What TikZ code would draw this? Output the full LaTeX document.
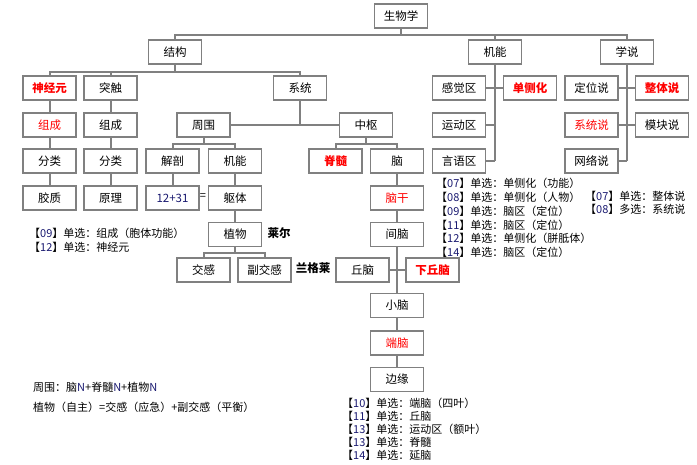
\documentclass[tikz,border=0pt]{standalone}
\usepackage{fontspec}
\setmainfont{Noto Sans CJK SC}
\definecolor{boxgray}{RGB}{128,128,128}
\definecolor{numblue}{RGB}{25,25,112}
\newcommand{\nb}[1]{\textcolor{numblue}{#1}}
\tikzset{
	box/.style={draw=boxgray,line width=1.7pt,fill=white,minimum width=53pt,minimum height=24pt,inner sep=0pt,font=\fontsize{11.5}{13}\selectfont},
	hot/.style={box,text=red},
	hotb/.style={box,text=red,font=\fontsize{11.5}{13}\selectfont\bfseries},
	link/.style={draw=boxgray,line width=2pt},
	note/.style={anchor=west,inner sep=0pt,font=\fontsize{11}{12}\selectfont},
	tag/.style={inner sep=0pt,font=\fontsize{11.5}{13}\selectfont\bfseries}
}
\begin{document}
\begin{tikzpicture}[x=1pt,y=-1pt]
			\useasboundingbox (0,0) rectangle (697,465);
			% top levels
			\node[box] (root) at (401,16) {生物学};
			\node[box] (jg) at (175,52) {结构};
			\node[box] (jn) at (495,52) {机能};
			\node[box] (xs) at (627,52) {学说};
			% structure
			\node[hotb] (sjy) at (49.5,88) {神经元};
			\node[box] (tc) at (110.5,88) {突触};
			\node[box] (xt) at (300,88) {系统};
			\node[hot] (zc1) at (49.5,125) {组成};
			\node[box] (zc2) at (110.5,125) {组成};
			\node[box] (fl1) at (49.5,161) {分类};
			\node[box] (fl2) at (110.5,161) {分类};
			\node[box] (jz) at (49.5,198) {胶质};
			\node[box] (yl) at (110.5,198) {原理};
			\node[box] (zw) at (203.5,125) {周围};
			\node[box] (zs) at (366,125) {中枢};
			\node[box] (jp) at (172.5,161) {解剖};
			\node[box] (jn2) at (235,161) {机能};
			\node[box,text=numblue] (nums) at (172.5,198) {12+31};
			\node[tag,font=\fontsize{11}{13}\selectfont] (eq) at (203,197) {=};
			\node[box] (qt) at (235,198) {躯体};
			\node[box] (zwu) at (235,234.5) {植物};
			\node[box] (jg2) at (203.5,270) {交感};
			\node[box] (fjg) at (264.5,270) {副交感};
			\node[tag] (laier) at (279,233) {莱尔};
			\node[tag] (lgl) at (313,268) {兰格莱};
			\node[hotb] (js) at (335.5,161) {脊髓};
			\node[box] (nao) at (397,161) {脑};
			\node[hot] (ng) at (397,198) {脑干};
			\node[box] (jnao) at (397,234.5) {间脑};
			\node[box] (qn) at (362.5,270) {丘脑};
			\node[hotb] (xqn) at (432.5,270) {下丘脑};
			\node[box] (xn) at (397,305.5) {小脑};
			\node[hot] (dn) at (397,343) {端脑};
			\node[box] (by) at (397,379.5) {边缘};
			% function
			\node[box] (gjq) at (459,88) {感觉区};
			\node[hotb] (dcx) at (530,88) {单侧化};
			\node[box] (ydq) at (459,125) {运动区};
			\node[box] (yyq) at (459,161) {言语区};
			% theories
			\node[box] (dws) at (591.5,88) {定位说};
			\node[hotb] (zts) at (662,88) {整体说};
			\node[hot] (xts) at (591.5,125) {系统说};
			\node[box] (mks) at (662,125) {模块说};
			\node[box] (wls) at (591.5,161) {网络说};
			% connectors
			\draw[link] (root.south) -- ++(0,6) -| (jg.north);
			\draw[link] (root.south) -- ++(0,6) -| (jn.north);
			\draw[link] (root.south) -- ++(0,6) -| (xs.north);
			\draw[link] (jg.south) -- ++(0,7) -| (sjy.north);
			\draw[link] (jg.south) -- ++(0,7) -| (tc.north);
			\draw[link] (jg.south) -- ++(0,7) -| (xt.north);
			\draw[link] (sjy.south) -- (zc1.north);
			\draw[link] (zc1.south) -- (fl1.north);
			\draw[link] (fl1.south) -- (jz.north);
			\draw[link] (tc.south) -- (zc2.north);
			\draw[link] (zc2.south) -- (fl2.north);
			\draw[link] (fl2.south) -- (yl.north);
			\draw[link] (xt.south) -- (xt.south |- zw.east);
			\draw[link] (zw.east) -- (zs.west);
			\draw[link] (zw.south) -- ++(0,6) -| (jp.north);
			\draw[link] (zw.south) -- ++(0,6) -| (jn2.north);
			\draw[link] (jp.south) -- (nums.north);
			\draw[link] (jn2.south) -- (qt.north);
			\draw[link] (qt.south) -- (zwu.north);
			\draw[link] (zwu.south) -- ++(0,6) -| (jg2.north);
			\draw[link] (zwu.south) -- ++(0,6) -| (fjg.north);
			\draw[link] (zs.south) -- ++(0,6) -| (js.north);
			\draw[link] (zs.south) -- ++(0,6) -| (nao.north);
			\draw[link] (nao.south) -- (ng.north);
			\draw[link] (ng.south) -- (jnao.north);
			\draw[link] (jnao.south) -- (xn.north);
			\draw[link] (qn.east) -- (xqn.west);
			\draw[link] (xn.south) -- (dn.north);
			\draw[link] (dn.south) -- (by.north);
			\draw[link] (jn.south) -- (jn.south |- yyq.east);
			\draw[link] (gjq.east) -- (dcx.west);
			\draw[link] (ydq.east) -- (ydq.east -| jn.south);
			\draw[link] (yyq.east) -- (yyq.east -| jn.south);
			\draw[link] (xs.south) -- (xs.south |- wls.east);
			\draw[link] (dws.east) -- (zts.west);
			\draw[link] (xts.east) -- (mks.west);
			\draw[link] (wls.east) -- (wls.east -| xs.south);
			% exam notes
			\node[note] (a1) at (29,233) {【\nb{09}】单选：组成（胞体功能）};
			\node[note] (a2) at (29,247) {【\nb{12}】单选：神经元};
			\node[note] (b1) at (436,183) {【\nb{07}】单选：单侧化（功能）};
			\node[note] (b2) at (436,197) {【\nb{08}】单选：单侧化（人物）};
			\node[note] (b3) at (436,211) {【\nb{09}】单选：脑区（定位）};
			\node[note] (b4) at (436,225) {【\nb{11}】单选：脑区（定位）};
			\node[note] (b5) at (436,238) {【\nb{12}】单选：单侧化（胼胝体）};
			\node[note] (b6) at (436,252) {【\nb{14}】单选：脑区（定位）};
			\node[note] (c1) at (585,196) {【\nb{07}】单选：整体说};
			\node[note] (c2) at (585,209) {【\nb{08}】多选：系统说};
			\node[note] (d1) at (342,403) {【\nb{10}】单选：端脑（四叶）};
			\node[note] (d2) at (342,416) {【\nb{11}】单选：丘脑};
			\node[note] (d3) at (342,429) {【\nb{13}】单选：运动区（额叶）};
			\node[note] (d4) at (342,442) {【\nb{13}】单选：脊髓};
			\node[note] (d5) at (342,455) {【\nb{14}】单选：延脑};
			\node[note] (e1) at (33,387) {周围：脑\nb{N}+脊髓\nb{N}+植物\nb{N}};
			\node[note] (e2) at (33,407) {植物（自主）=交感（应急）+副交感（平衡）};
		\end{tikzpicture}
\end{document}
